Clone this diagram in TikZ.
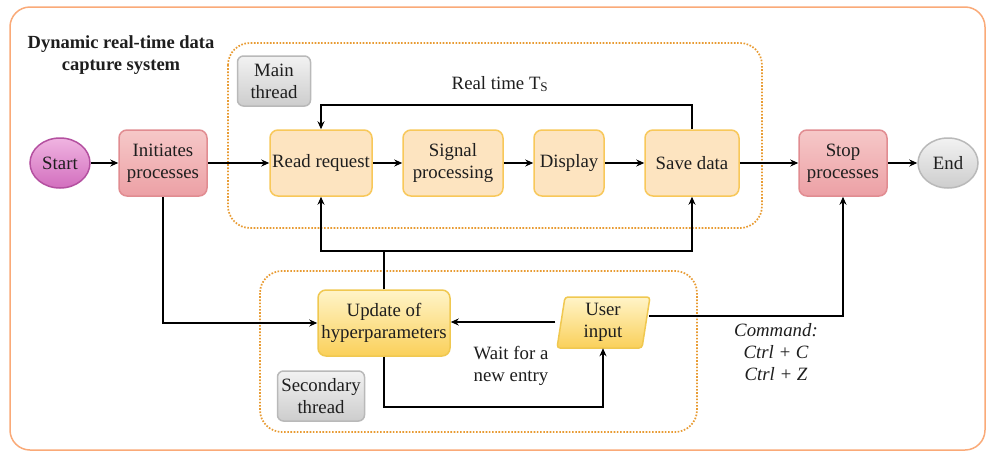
\documentclass[tikz,border=0pt]{standalone}
\usepackage{fontspec}
\setmainfont{Liberation Serif}
\usetikzlibrary{arrows.meta,shapes.geometric}
\definecolor{frame}{RGB}{250,170,120}
\definecolor{dotc}{RGB}{232,155,50}
\definecolor{mainfill}{RGB}{253,228,192}
\definecolor{maindraw}{RGB}{248,200,90}
\definecolor{pinktop}{RGB}{246,200,200}
\definecolor{pinkbot}{RGB}{236,160,165}
\definecolor{pinkdraw}{RGB}{225,140,145}
\definecolor{yeltop}{RGB}{255,244,200}
\definecolor{yelbot}{RGB}{250,208,90}
\definecolor{yeldraw}{RGB}{240,200,80}
\definecolor{graytop}{RGB}{242,242,242}
\definecolor{graybot}{RGB}{205,205,205}
\definecolor{graydraw}{RGB}{185,185,185}
\definecolor{magtop}{RGB}{240,180,225}
\definecolor{magbot}{RGB}{210,110,190}
\definecolor{magdraw}{RGB}{180,80,160}
\definecolor{txt}{RGB}{30,30,30}
\tikzset{
  base/.style={align=center, text=txt, font=\fontsize{18.8}{22}\selectfont, inner sep=0pt, line width=1.5pt},
  mainbox/.style={base, rounded corners=8pt, draw=maindraw, fill=mainfill, minimum height=66pt},
  pinkbox/.style={base, rounded corners=8pt, draw=pinkdraw, top color=pinktop, bottom color=pinkbot, minimum height=66pt, minimum width=88pt},
  yelbox/.style={base, rounded corners=8pt, draw=yeldraw, top color=yeltop, bottom color=yelbot, minimum height=66pt},
  graybox/.style={base, rounded corners=6pt, draw=graydraw, top color=graytop, bottom color=graybot, minimum height=50pt},
  oval/.style={base, ellipse, minimum width=60pt, minimum height=50pt},
  arr/.style={-{Stealth[length=8pt,width=7pt]}, line width=1.6pt, draw=black},
  ln/.style={line width=1.6pt, draw=black},
  thread/.style={draw=dotc, line width=1.7pt, dash pattern=on 1.6pt off 1.6pt, rounded corners=22pt},
}
\begin{document}
\begin{tikzpicture}[x=1pt,y=-1pt]
\useasboundingbox (0,0) rectangle (988,453);
\fill[white] (0,0) rectangle (988,453);
\draw[frame, line width=1.5pt, rounded corners=20pt] (10,7) rectangle (985,450);

% title
\node[base, font=\fontsize{18.5}{22}\selectfont\bfseries] (title) at (121,55) {Dynamic real-time data\\capture system};

% thread frames
\draw[thread] (228,43) rectangle (762,228);
\draw[thread] (260,271) rectangle (697,432);

\node[graybox, minimum width=73pt] (mt) at (274,81) {Main\\thread};
\node[graybox, minimum width=87pt] (st) at (321,396) {Secondary\\thread};

% main row
\node[oval, draw=magdraw, top color=magtop, bottom color=magbot] (start) at (60,163) {Start};
\node[pinkbox] (init) at (163,163) {Initiates\\processes};
\node[mainbox, minimum width=102pt] (read) at (321,163) {Read request};
\node[mainbox, minimum width=100pt] (sig) at (453,163) {Signal\\processing};
\node[mainbox, minimum width=70pt] (disp) at (569,163) {Display};
\node[mainbox, minimum width=94pt] (save) at (692,163) {Save data};
\node[pinkbox] (stop) at (843,163) {Stop\\processes};
\node[oval, draw=graydraw, top color=graytop, bottom color=graybot] (end) at (948,163) {End};

\node[base] (rt) at (500,84) {Real time T\textsubscript{S}};

% secondary row
\node[yelbox, minimum width=132pt] (upd) at (384,323) {Update of\\hyperparameters};
\shade[top color=yeltop, bottom color=yelbot, draw=yeldraw, line width=1.5pt, rounded corners=3pt]
  (565,297) -- (650,297) -- (642,348) -- (557,348) -- cycle;
\node[base, minimum width=90pt, minimum height=51pt] (ui) at (603,322) {User\\input};

\node[base] (wait) at (511,366) {Wait for a\\new entry};
\node[base, font=\fontsize{18.8}{22}\selectfont\itshape] (cmd) at (776,352) {Command:\\Ctrl + C\\Ctrl + Z};

% connectors
\draw[arr] (start) -- (init);
\draw[arr] (init) -- (read);
\draw[arr] (read) -- (sig);
\draw[arr] (sig) -- (disp);
\draw[arr] (disp) -- (save);
\draw[arr] (save) -- (stop);
\draw[arr] (stop) -- (end);
\draw[arr] (save.north) -- ++(0,-24) -| (read.north);
\draw[arr] (init.south) |- (upd.west);
\coordinate (j) at (upd.north |- 0,251);
\draw[ln] (upd.north) -- (j);
\draw[arr] (j) -| (read.south);
\draw[arr] (j) -| (save.south);
\draw[arr] ([xshift=-2pt]ui.west) -- (upd.east |- ui.west);
\draw[arr] (upd.south) -- ++(0,50) -| (ui.south);
\draw[arr] ([yshift=6pt]ui.east) -| (stop.south);
\end{tikzpicture}
\end{document}
